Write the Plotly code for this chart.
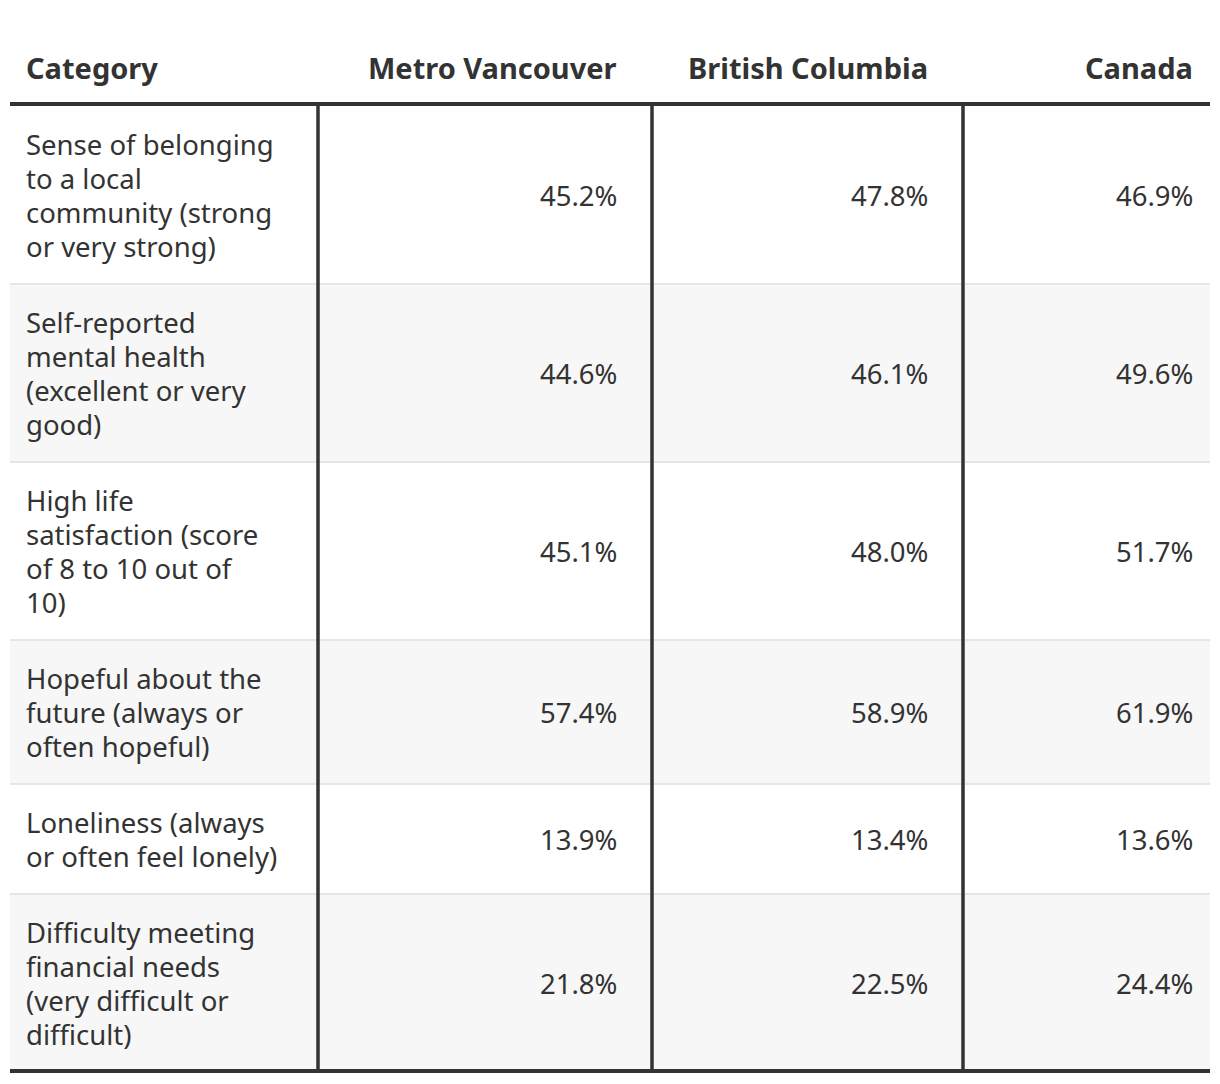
import plotly.graph_objects as go

# ---- data ----
columns = ["Category", "Metro Vancouver", "British Columbia", "Canada"]
categories = [
    "Sense of belonging<br>to a local<br>community (strong<br>or very strong)",
    "Self-reported<br>mental health<br>(excellent or very<br>good)",
    "High life<br>satisfaction (score<br>of 8 to 10 out of<br>10)",
    "Hopeful about the<br>future (always or<br>often hopeful)",
    "Loneliness (always<br>or often feel lonely)",
    "Difficulty meeting<br>financial needs<br>(very difficult or<br>difficult)",
]
metro_vancouver = [45.2, 44.6, 45.1, 57.4, 13.9, 21.8]
british_columbia = [47.8, 46.1, 48.0, 58.9, 13.4, 22.5]
canada = [46.9, 49.6, 51.7, 61.9, 13.6, 24.4]

# ---- layout constants (page pixel coordinates) ----
W, H = 1220, 1084
OFF = 8  # default body margin of the html page
left, right = 10, 1210
col_edges = [left, 318, 652, 963, right]
text_right = [None, 619, 930, 1195]
text_left = 24
header_y = 67
body_top = 106
line_h = 34
pad = 42
dark = "#333333"
font_family = "Noto Sans, Open Sans, sans-serif"
body_size = 27.5
head_size = 29

fig = go.Figure()
fig.add_trace(go.Scatter(x=[OFF, W], y=[OFF, H], mode="markers",
                         marker=dict(opacity=0), hoverinfo="skip", showlegend=False))

shapes = []
annotations = []

# header
for i, name in enumerate(columns):
    annotations.append(dict(x=text_left if i == 0 else text_right[i], y=header_y,
                            text=f"<b>{name}</b>",
                            xanchor="left" if i == 0 else "right", yanchor="middle",
                            showarrow=False,
                            font=dict(size=head_size, color=dark, family=font_family)))

series = [metro_vancouver, british_columbia, canada]
y = body_top
for r, cat in enumerate(categories):
    lines = cat.split("<br>")
    n = len(lines)
    h = line_h * n + pad
    if r % 2 == 1:
        shapes.append(dict(type="rect", x0=left, x1=right, y0=y, y1=y + h,
                           fillcolor="#f7f7f7", line=dict(width=0), layer="below"))
    if r > 0:
        shapes.append(dict(type="line", x0=left, x1=right, y0=y, y1=y,
                           line=dict(color="#e6e6e6", width=2), layer="below"))
    cy = y + h / 2
    for k, ln in enumerate(lines):
        ly = cy + (k - (n - 1) / 2) * line_h
        annotations.append(dict(x=text_left, y=ly, text=ln, xanchor="left", yanchor="middle",
                                align="left", showarrow=False,
                                font=dict(size=body_size, color=dark, family=font_family)))
    for c, vals in enumerate(series, start=1):
        annotations.append(dict(x=text_right[c], y=cy, text=f"{vals[r]:.1f}%",
                                xanchor="right", yanchor="middle", showarrow=False,
                                font=dict(size=body_size, color=dark, family=font_family)))
    y += h
body_bottom = y - 1

# thick lines
shapes.append(dict(type="line", x0=left, x1=right, y0=104, y1=104,
                   line=dict(color=dark, width=4)))
shapes.append(dict(type="line", x0=left, x1=right, y0=body_bottom, y1=body_bottom,
                   line=dict(color=dark, width=4)))
for xe in col_edges[1:-1]:
    shapes.append(dict(type="line", x0=xe, x1=xe, y0=104, y1=body_bottom,
                       line=dict(color=dark, width=3.5)))

fig.update_layout(
    width=W - OFF, height=H - OFF,
    margin=dict(l=0, r=0, t=0, b=0),
    paper_bgcolor="white", plot_bgcolor="white",
    xaxis=dict(range=[OFF, W], visible=False, fixedrange=True),
    yaxis=dict(range=[H, OFF], visible=False, fixedrange=True),
    shapes=shapes, annotations=annotations,
    showlegend=False,
)

fig.write_html("out.html")
